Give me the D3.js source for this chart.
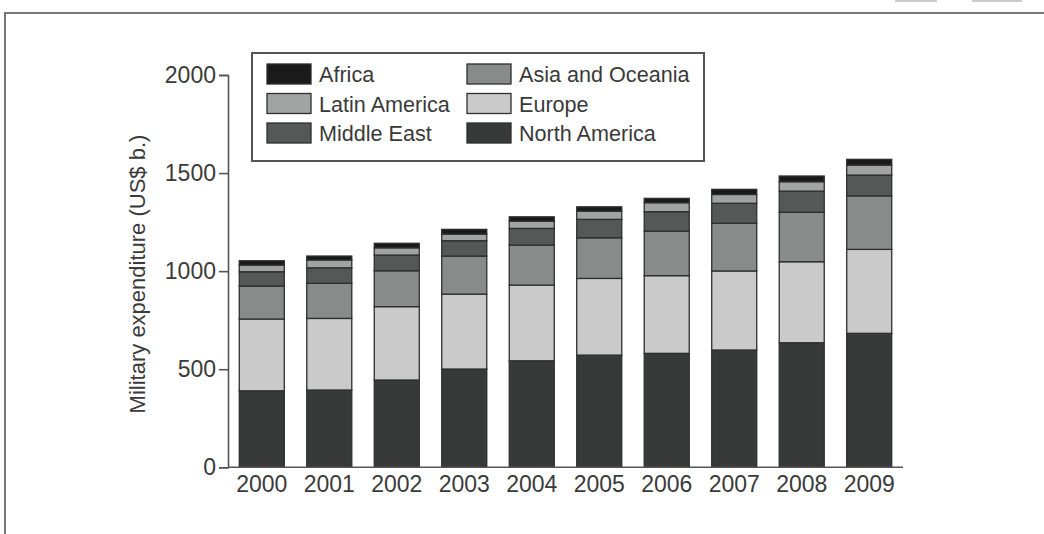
<!DOCTYPE html>
<html><head><meta charset="utf-8">
<script src="https://cdn.jsdelivr.net/npm/d3@7"></script>
<style>body{margin:0;background:#fff}svg{display:block;font-family:"Liberation Sans",Arial,sans-serif}</style>
</head><body>
<svg id="c" width="1044" height="534"></svg>
<script>
const years = ["2000","2001","2002","2003","2004","2005","2006","2007","2008","2009"];
const northAmerica = [390,394,445,501,543,572,581,598,635,683];
const europe       = [366,365,374,382,386,391,396,403,413,428];
const asiaOceania  = [168,179,183,194,204,207,227,243,252,273];
const middleEast   = [73,79,80,78,85,94,99,102,108,106];
const latinAmerica = [34,40,37,34,37,42,46,45,48,51];
const africa       = [22,20,23,24,22,22,22,26,29,29];
const yTicks = [0,500,1000,1500,2000];
const seriesNames = ["North America","Europe","Asia and Oceania","Middle East","Latin America","Africa"];
const seriesColors = ["#383a39","#c9cac9","#898b8a","#565857","#a2a4a3","#1a1a1a"];
const legendOrder = ["Africa","Asia and Oceania","Latin America","Europe","Middle East","North America"];

const svg = d3.select("#c");
const seriesData = [northAmerica,europe,asiaOceania,middleEast,latinAmerica,africa];
const rows = years.map((y,i)=>{const o={year:y};seriesNames.forEach((n,j)=>o[n]=seriesData[j][i]);return o;});
const stack = d3.stack().keys(seriesNames)(rows);
const color = d3.scaleOrdinal().domain(seriesNames).range(seriesColors);

const x = d3.scaleBand().domain(years).range([228,903]).paddingInner(0.333).paddingOuter(0.167);
const y = d3.scaleLinear().domain([0,2000]).range([467.3,75]);

// frame
svg.append("path").attr("d","M5,534 V13 H1044").attr("fill","none").attr("stroke","#777").attr("stroke-width",2);
svg.append("rect").attr("x",895).attr("y",0).attr("width",42).attr("height",2).attr("fill","#ccc");
svg.append("rect").attr("x",972).attr("y",0).attr("width",50).attr("height",2).attr("fill","#ccc");

// bars
svg.append("g").selectAll("g").data(stack).join("g").attr("fill",d=>color(d.key))
  .selectAll("rect").data(d=>d).join("rect")
  .attr("x",d=>x(d.data.year)).attr("width",x.bandwidth())
  .attr("y",d=>y(d[1])).attr("height",d=>y(d[0])-y(d[1]))
  .attr("stroke","#2e2e2e").attr("stroke-width",1.3);

// y axis
const ya = svg.append("g").attr("transform","translate(228,0)")
  .call(d3.axisLeft(y).tickValues(yTicks).tickFormat(d3.format("d")).tickSize(9).tickPadding(3));
ya.select(".domain").attr("stroke","#555").attr("stroke-width",1.6);
ya.selectAll(".tick line").attr("stroke","#555").attr("stroke-width",1.6);
ya.selectAll(".tick text").attr("fill","#3a3a3a").style("font-size","23px").attr("font-family","Liberation Sans, Arial, sans-serif");

// x axis
const xa = svg.append("g").attr("transform","translate(0,467.3)")
  .call(d3.axisBottom(x).tickSize(0).tickPadding(8));
xa.select(".domain").attr("stroke","#555").attr("stroke-width",1.6).attr("d","M228,0H903");
xa.selectAll(".tick text").attr("fill","#3a3a3a").style("font-size","23px").attr("font-family","Liberation Sans, Arial, sans-serif");

// y title
svg.append("text").attr("transform","translate(145,274) rotate(-90)")
  .attr("text-anchor","middle").attr("fill","#3a3a3a").style("font-size","22px")
  .text("Military expenditure (US$ b.)");

// legend
const lg = svg.append("g");
lg.append("rect").attr("x",252).attr("y",53).attr("width",452).attr("height",108)
  .attr("fill","#fff").attr("stroke","#555").attr("stroke-width",2);
legendOrder.forEach((name,i)=>{
  const col=i%2,row=Math.floor(i/2);
  const sx = col===0?267:467, tx = col===0?319:519;
  const sy = 64+row*29.5;
  lg.append("rect").attr("x",sx).attr("y",sy).attr("width",44).attr("height",20)
    .attr("fill",color(name)).attr("stroke","#2e2e2e").attr("stroke-width",1.3);
  lg.append("text").attr("x",tx).attr("y",sy+18).attr("fill","#3a3a3a").style("font-size","21.6px").text(name);
});
</script>
</body></html>
